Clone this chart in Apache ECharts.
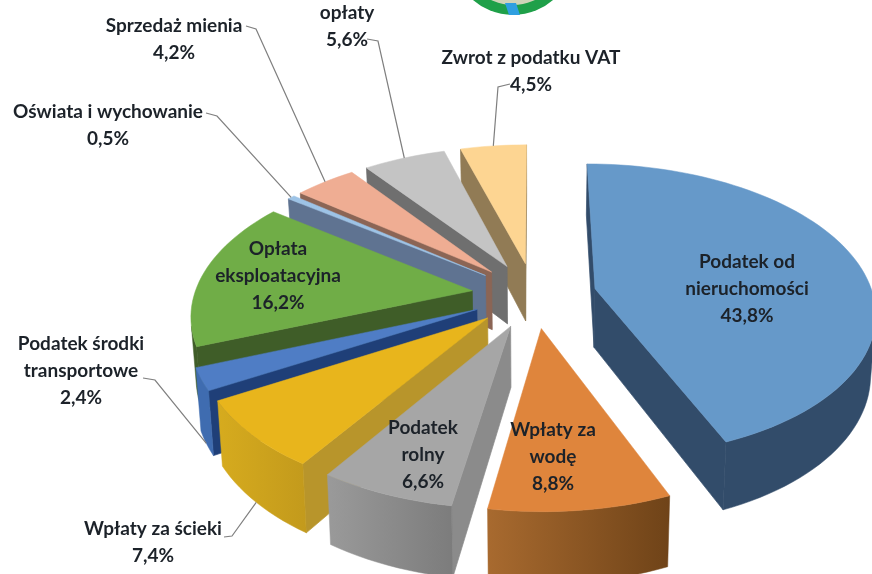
<!DOCTYPE html>
<html><head><meta charset="utf-8">
<style>html,body{margin:0;padding:0;background:#fff}#c{width:872px;height:574px}</style>
<script src="https://cdn.jsdelivr.net/npm/echarts@6/dist/echarts.min.js"></script>
</head><body><div id="c"></div>
<script>
const categories = ['Podatek od nieruchomości','Wpłaty za wodę','Podatek rolny','Wpłaty za ścieki','Podatek środki transportowe','Opłata eksploatacyjna','Oświata i wychowanie','Sprzedaż mienia','opłaty','Zwrot z podatku VAT'];
const values = [43.8,8.8,6.6,7.4,2.4,16.2,0.5,4.2,5.6,4.5];
const valueLabels = ['43,8%','8,8%','6,6%','7,4%','2,4%','16,2%','0,5%','4,2%','5,6%','4,5%'];
const labelLines = [['Podatek od','nieruchomości'],['Wpłaty za','wodę'],['Podatek','rolny'],['Wpłaty za ścieki'],['Podatek środki','transportowe'],['Opłata','eksploatacyjna'],['Oświata i wychowanie'],['Sprzedaż mienia'],['opłaty'],['Zwrot z podatku VAT']];
const topColors = ['#6699c9','#df853c','#a6a6a6','#e8b51c','#4f7dc5','#70ad47','#9dc3e6','#efad93','#c4c4c4','#fdd592'];
const cutColors = ['#324c6a','#a2602a','#8b8b8b','#b8952b','#1f3f78','#3f5d28','#5f7391','#8b6555','#6f6f6f','#917b55'];
const arcLeft = ['#324c6a','#a86a2f','#9a9a9a','#d6ab1e','#3f6cb0','#3f5d28','#5f7391','#8b6555','#6f6f6f','#917b55'];
const arcRight = ['#324c6a','#6f4318','#7c7c7c','#c39a1c','#3f6cb0','#3f5d28','#5f7391','#8b6555','#6f6f6f','#917b55'];
const labelCentres = [[747,262],[553,430],[423,428],[153,529],[81,344],[278,249],[108,112],[174,26],[347,13],[531,58]];
const leaderFrom = [null,null,null,[224,537],[143,378],null,[206,113],[246,26],[367,39],[510,84]];
const leaderElbow = [null,null,null,[232,536],[155,380],null,[217,116],[256,29],[378,41],[498,87]];

const CX=534, CY=295, RX=278, RY=145, PERSP=0.148, EXPLODE=0.225, DEPTH=59, BOTTOM=0.985;
const FONT='Lato', SIZE=19, LEADING=26.7, INK='#1c2229';

function project(u,v,low){
  const s=1/(1-PERSP*v);
  let x=CX+RX*u*s, y=CY+RY*v*s;
  if(low){ x=CX+(x-CX)*BOTTOM; y+=DEPTH*s; }
  return [x,y];
}
const total=values.reduce((a,b)=>a+b,0);
let acc=0;
const slices=values.map(val=>{const a=acc/total*2*Math.PI; acc+=val; const b=acc/total*2*Math.PI; return {a,b,m:(a+b)/2};});
function off(sl){return [EXPLODE*Math.sin(sl.m),-EXPLODE*Math.cos(sl.m)];}
function rim(sl,t){const o=off(sl);return [o[0]+Math.sin(t),o[1]-Math.cos(t)];}
function area(p){let s=0;for(let i=0;i<p.length;i++){const q=p[(i+1)%p.length];s+=p[i][0]*q[1]-q[0]*p[i][1];}return s/2;}

const drawOrder=slices.map((s,i)=>i).sort((p,q)=>(-Math.cos(slices[p].m))-(-Math.cos(slices[q].m)));

function renderSlice(params,api){
  const i=api.value(0), sl=slices[i], o=off(sl);
  const n=Math.max(4,Math.ceil((sl.b-sl.a)/(Math.PI/90)));
  const disc=[];
  for(let k=0;k<=n;k++){disc.push(rim(sl,sl.a+(sl.b-sl.a)*k/n));}
  const children=[];
  const quad=(p,q)=>[project(p[0],p[1]),project(q[0],q[1]),project(q[0],q[1],true),project(p[0],p[1],true)];
  const face=(p,q,fill)=>{
    const pts=quad(p,q);
    if(area(pts)<0){children.push({type:'polygon',shape:{points:pts},style:{fill:fill,stroke:fill,lineWidth:0.7}});}
  };
  face(o,disc[0],cutColors[i]);
  face(disc[n],o,cutColors[i]);
  // outer wall: visible arc segments merged into one shape with a horizontal gradient
  const upper=[],lower=[];
  const flush=()=>{
    if(upper.length){
      const pts=upper.concat(lower.slice().reverse());
      const xs=pts.map(p=>p[0]);
      const grad=new echarts.graphic.LinearGradient(Math.min.apply(null,xs),0,Math.max.apply(null,xs),0,[{offset:0,color:arcLeft[i]},{offset:1,color:arcRight[i]}],true);
      children.push({type:'polygon',shape:{points:pts},style:{fill:grad,stroke:grad,lineWidth:0.5}});
    }
    upper.length=0;lower.length=0;
  };
  for(let k=0;k<n;k++){
    const pts=quad(disc[k],disc[k+1]);
    if(area(pts)<0){
      if(!upper.length){upper.push(pts[0]);lower.push(pts[3]);}
      upper.push(pts[1]);lower.push(pts[2]);
    } else flush();
  }
  flush();
  const top=[project(o[0],o[1])].concat(disc.map(d=>project(d[0],d[1])));
  children.push({type:'polygon',shape:{points:top},style:{fill:topColors[i],stroke:topColors[i],lineWidth:0.5}});
  return {type:'group',children:children};
}

const graphics=[];
// logo remnant and cropped heading at the top of the page
graphics.push({type:'circle',shape:{cx:513,cy:-46,r:61},style:{fill:'#1fa049'},z:1});
graphics.push({type:'circle',shape:{cx:513,cy:-46,r:51},style:{fill:'#cfd3b8'},z:2});
graphics.push({type:'polygon',shape:{points:[[505,3],[516,3],[520,15],[509,15]]},style:{fill:'#2f9fe0'},z:3});
graphics.push({type:'text',x:698,y:-23,style:{text:'W 2017 ROKU',font:'bold 26px '+FONT,fill:'#8b8b8b',textAlign:'left',textVerticalAlign:'top'},z:3});

categories.forEach((name,i)=>{
  const lines=labelLines[i].concat([valueLabels[i]]);
  const c=labelCentres[i];
  lines.forEach((t,j)=>{
    graphics.push({type:'text',x:c[0],y:c[1]+j*LEADING,z:20,style:{text:t,font:'bold '+SIZE+'px '+FONT,fill:INK,textAlign:'center',textVerticalAlign:'middle'}});
  });
  if(leaderFrom[i]){
    const sl=slices[i], p=rim(sl,sl.m), low=-Math.cos(sl.m)>0;
    const end=project(p[0],p[1],low);
    graphics.push({type:'polyline',z:15,shape:{points:[leaderFrom[i],leaderElbow[i],end]},style:{stroke:'#7f7f7f',lineWidth:1.2,fill:null}});
  }
});

const chart=echarts.init(document.getElementById('c'),null,{renderer:'canvas'});
chart.setOption({
  animation:false,
  backgroundColor:'#ffffff',
  graphic:{elements:graphics},
  series:[{type:'custom',coordinateSystem:'none',clip:false,silent:true,z:5,
    data:drawOrder.map(i=>[i,values[i]]),
    encode:{value:1},
    renderItem:renderSlice}]
});
</script></body></html>
